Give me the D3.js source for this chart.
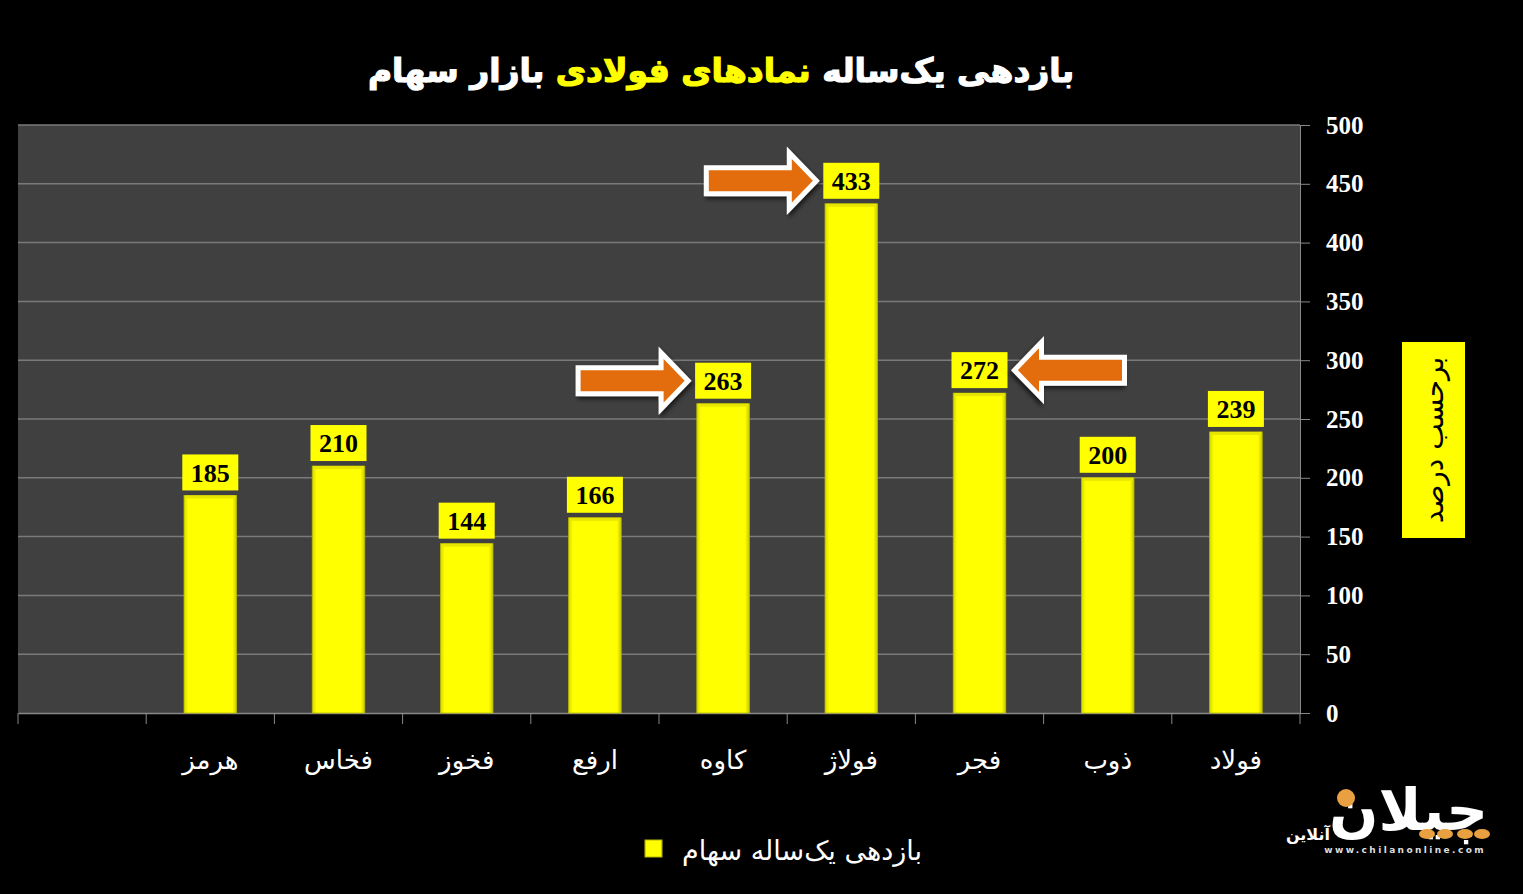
<!DOCTYPE html>
<html>
<head>
<meta charset="utf-8">
<script src="https://cdn.jsdelivr.net/npm/d3@7"></script>
<style>
  body { margin: 0; background: #000; }
  svg { display: block; }
</style>
</head>
<body>
<svg width="1523" height="894"></svg>
<script>
// Data
var categories = ["", "هرمز", "فخاس", "فخوز", "ارفع", "کاوه", "فولاژ", "فجر", "ذوب", "فولاد"];
var returns = [null, 185, 210, 144, 166, 263, 433, 272, 200, 239];
var yTicks = [0, 50, 100, 150, 200, 250, 300, 350, 400, 450, 500];
// arrows pointing at highlighted labels
var arrowCats = ["کاوه", "فولاژ", "فجر"];
var arrowDirs = ["right", "right", "left"];

var svg = d3.select("svg"),
    width = +svg.attr("width"),
    height = +svg.attr("height");

var plot = { left: 18, right: 1300, top: 125, bottom: 713 };

var x = d3.scaleBand()
    .domain(categories.map(function(d, i) { return i; }))
    .range([plot.left, plot.right])
    .paddingInner(0.59)
    .paddingOuter(0.295);

var band = d3.scaleBand()
    .domain(categories.map(function(d, i) { return i; }))
    .range([plot.left, plot.right]);

var y = d3.scaleLinear()
    .domain([0, 500])
    .range([plot.bottom, plot.top]);

var defs = svg.append("defs");
var grad = defs.append("linearGradient").attr("id", "barGrad")
    .attr("x1", "0%").attr("x2", "100%");
grad.append("stop").attr("offset", "0%").attr("stop-color", "#d8d800");
grad.append("stop").attr("offset", "8%").attr("stop-color", "#ffff00");
grad.append("stop").attr("offset", "92%").attr("stop-color", "#ffff00");
grad.append("stop").attr("offset", "100%").attr("stop-color", "#c8c800");

defs.append("filter").attr("id", "shadow")
    .attr("x", "-20%").attr("y", "-20%").attr("width", "150%").attr("height", "160%")
  .append("feDropShadow")
    .attr("dx", 2).attr("dy", 3).attr("stdDeviation", 2)
    .attr("flood-color", "#000").attr("flood-opacity", 0.6);

// background
svg.append("rect").attr("width", width).attr("height", height).attr("fill", "#000");

// plot area
svg.append("rect")
    .attr("x", plot.left).attr("y", plot.top)
    .attr("width", plot.right - plot.left).attr("height", plot.bottom - plot.top)
    .attr("fill", "#404040");

// Title
var title = svg.append("text")
    .attr("x", 721).attr("y", 82)
    .attr("text-anchor", "middle")
    .attr("direction", "rtl")
    .attr("font-family", "DejaVu Sans")
    .attr("font-weight", "bold")
    .attr("font-size", 33)
    .attr("stroke-width", 1.2);
title.append("tspan").attr("fill", "#fff").attr("stroke", "#fff").text("بازدهی یک‌ساله ");
title.append("tspan").attr("fill", "#ffff00").attr("stroke", "#ffff00").text("نمادهای فولادی");
title.append("tspan").attr("fill", "#fff").attr("stroke", "#fff").text(" بازار سهام");

// Y axis (right)
var yAxis = svg.append("g")
    .attr("transform", "translate(" + plot.right + ",0)")
    .call(d3.axisRight(y).tickValues(yTicks).tickSize(10).tickPadding(16));
yAxis.select(".domain").attr("stroke", "#888");
yAxis.selectAll(".tick line").attr("stroke", "#888");
yAxis.selectAll(".tick text")
    .attr("fill", "#fff")
    .attr("font-family", "Liberation Serif")
    .attr("font-weight", "bold")
    .attr("font-size", 25);

// gridlines
svg.append("g")
    .selectAll("line")
    .data(yTicks.slice(1))
    .enter()
    .append("line")
    .attr("x1", plot.left).attr("x2", plot.right)
    .attr("y1", function(d) { return y(d); })
    .attr("y2", function(d) { return y(d); })
    .attr("stroke", "#7a7a7a")
    .attr("stroke-width", 1.5);

// X axis
var xAxis = svg.append("g")
    .attr("transform", "translate(0," + plot.bottom + ")")
    .call(d3.axisBottom(band).tickSize(0).tickFormat(function(i) { return categories[i]; }).tickPadding(38));
xAxis.select(".domain").attr("stroke", "#888").attr("stroke-width", 1.5);
xAxis.selectAll(".tick text")
    .attr("fill", "#fff")
    .attr("font-family", "DejaVu Sans")
    .attr("font-size", 26);
// boundary ticks between categories
xAxis.append("g")
    .selectAll("line")
    .data(d3.range(categories.length + 1))
    .enter()
    .append("line")
    .attr("x1", function(i) { return plot.left + i * band.step(); })
    .attr("x2", function(i) { return plot.left + i * band.step(); })
    .attr("y1", 0).attr("y2", 11)
    .attr("stroke", "#888");

// Bars
var valid = categories.map(function(c, i) { return i; }).filter(function(i) { return returns[i] != null; });

svg.append("g")
    .selectAll("rect")
    .data(valid)
    .enter()
    .append("rect")
    .attr("x", function(i) { return x(i); })
    .attr("y", function(i) { return y(returns[i]); })
    .attr("width", x.bandwidth())
    .attr("height", function(i) { return y(0) - y(returns[i]); })
    .attr("fill", "url(#barGrad)")
    .attr("stroke", "#b8b800")
    .attr("stroke-width", 0.8);

// bar top bevel
svg.append("g")
    .selectAll("rect")
    .data(valid)
    .enter()
    .append("rect")
    .attr("x", function(i) { return x(i) + 1; })
    .attr("y", function(i) { return y(returns[i]); })
    .attr("width", x.bandwidth() - 2)
    .attr("height", 3)
    .attr("fill", "#e6e600");

// Data labels
var labels = svg.append("g")
    .selectAll("g")
    .data(valid)
    .enter()
    .append("g")
    .attr("transform", function(i) {
        return "translate(" + (x(i) + x.bandwidth() / 2) + "," + (y(returns[i]) - 23) + ")";
    });
labels.append("rect")
    .attr("x", -28).attr("y", -18)
    .attr("width", 56).attr("height", 36)
    .attr("fill", "#ffff00");
labels.append("text")
    .attr("text-anchor", "middle")
    .attr("dy", "0.35em")
    .attr("font-family", "Liberation Serif")
    .attr("font-weight", "bold")
    .attr("font-size", 26)
    .attr("fill", "#000")
    .text(function(i) { return returns[i]; });

// Arrows
function arrowPath(len) {
    // pointing right, tip at (0,0)
    var hl = 27, hh = 28, bh = 13;
    return "M0,0 L" + (-hl) + "," + (-hh) + " L" + (-hl) + "," + (-bh) +
        " L" + (-len) + "," + (-bh) + " L" + (-len) + "," + bh +
        " L" + (-hl) + "," + bh + " L" + (-hl) + "," + hh + " Z";
}
svg.append("g")
    .selectAll("path")
    .data(arrowCats.map(function(c, k) { return { i: categories.indexOf(c), dir: arrowDirs[k] }; }))
    .enter()
    .append("path")
    .attr("d", arrowPath(110))
    .attr("transform", function(d) {
        var cx = x(d.i) + x.bandwidth() / 2, cy = y(returns[d.i]) - 23;
        if (d.dir === "right") return "translate(" + (cx - 35) + "," + cy + ")";
        return "translate(" + (cx + 35) + "," + cy + ") scale(-1,1)";
    })
    .attr("fill", "#e36c0a")
    .attr("stroke", "#fff")
    .attr("stroke-width", 5)
    .attr("stroke-linejoin", "miter")
    .attr("filter", "url(#shadow)");

// Y axis title box
var yTitle = svg.append("g").attr("transform", "translate(1433,440)");
yTitle.append("rect")
    .attr("x", -31).attr("y", -98)
    .attr("width", 63).attr("height", 196)
    .attr("fill", "#ffff00");
yTitle.append("text")
    .attr("transform", "rotate(-90)")
    .attr("text-anchor", "middle")
    .attr("dy", "0.35em")
    .attr("direction", "rtl")
    .attr("font-family", "DejaVu Sans")
    .attr("font-size", 28)
    .attr("fill", "#000")
    .text("برحسب درصد");

// Legend
svg.append("rect")
    .attr("x", 645).attr("y", 840)
    .attr("width", 17).attr("height", 17)
    .attr("fill", "url(#barGrad)")
    .attr("stroke", "#b8b800");
svg.append("text")
    .attr("x", 922).attr("y", 860)
    .attr("direction", "rtl")
    .attr("text-anchor", "start")
    .attr("font-family", "DejaVu Sans")
    .attr("font-size", 27)
    .attr("fill", "#fff")
    .text("بازدهی یک‌ساله سهام");

// Watermark logo
var logo = svg.append("g");
logo.append("text")
    .attr("x", 1488).attr("y", 830)
    .attr("text-anchor", "end")
    .attr("font-family", "DejaVu Sans")
    .attr("font-weight", "bold")
    .attr("font-size", 58)
    .attr("fill", "#fff")
    .text("چیلان");
logo.append("circle").attr("cx", 1346).attr("cy", 798).attr("r", 9).attr("fill", "#e8a040");
logo.selectAll(".dot")
    .data([1427, 1445, 1465, 1482])
    .enter()
    .append("ellipse")
    .attr("cx", function(d) { return d; }).attr("cy", 834)
    .attr("rx", 8).attr("ry", 5)
    .attr("fill", "#e8a040");
logo.append("text")
    .attr("x", 1330).attr("y", 840)
    .attr("text-anchor", "end")
    .attr("font-family", "DejaVu Sans")
    .attr("font-weight", "bold")
    .attr("font-size", 16)
    .attr("fill", "#fff")
    .text("آنلاین");
logo.append("text")
    .attr("x", 1486).attr("y", 853)
    .attr("text-anchor", "end")
    .attr("font-family", "DejaVu Sans")
    .attr("font-weight", "bold")
    .attr("font-size", 9)
    .attr("letter-spacing", 2.4)
    .attr("fill", "#ddd")
    .text("www.chilanonline.com");
</script>
</body>
</html>
